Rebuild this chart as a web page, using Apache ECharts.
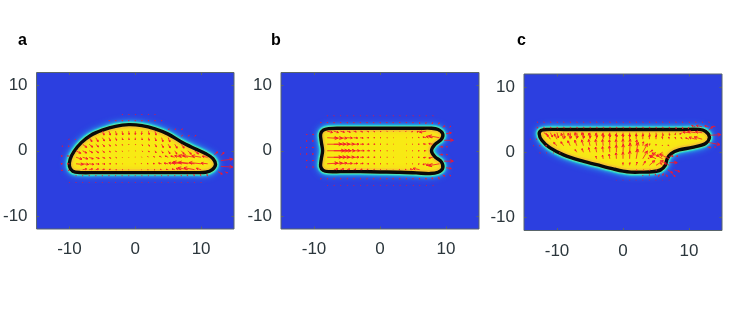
<!DOCTYPE html>
<html><head><meta charset="utf-8">
<script src="https://cdn.jsdelivr.net/npm/echarts@6/dist/echarts.min.js"></script>
<style>html,body{margin:0;padding:0;background:#fff}#c{width:747px;height:311px}</style></head>
<body><div id="c"></div>
<script>
const panelLabels=['a','b','c'];
const xTicks=[-10,0,10];
const yTicks=[-10,0,10];
const outlineA=[[-10,-2.4],[-9.5,-3.15],[-8.3,-3.35],[-6,-3.35],[-3,-3.35],[0,-3.35],[3,-3.35],[6,-3.35],[9,-3.35],[10.7,-3.3],[11.7,-2.9],[12.2,-2.1],[11.8,-1.2],[10.8,-.5],[9,.35],[7,1.35],[5,2.55],[3,3.35],[1,3.85],[-1,4],[-3,3.75],[-5,3.15],[-6.8,2.35],[-8.2,1.25],[-9.3,-.1],[-9.9,-1.3]];
const outlineB=[[-9,2.55],[-8.6,3.15],[-7.8,3.4],[-6,3.45],[-3,3.45],[0,3.45],[3,3.45],[6,3.45],[7.8,3.45],[8.8,3.25],[9.5,2.6],[9.3,1.75],[8.3,.95],[7.8,0],[8.3,-.9],[9.3,-1.7],[9.5,-2.7],[8.8,-3.3],[7.6,-3.5],[5.5,-3.4],[3,-3.3],[0,-3.25],[-3,-3.2],[-6,-3.2],[-7.8,-3.2],[-8.6,-3],[-9,-2.4],[-8.9,-1.3],[-8.7,0],[-8.9,1.4]];
const outlineC=[[-12.7,2.8],[-12.4,3.35],[-11.6,3.5],[-9,3.5],[-6,3.5],[-3,3.5],[0,3.5],[3,3.5],[6,3.5],[9,3.5],[11.5,3.5],[12.5,3.2],[13.1,2.3],[12.5,1.35],[10.5,.75],[8.5,.35],[7.3,-.2],[6.7,-1],[6.4,-2],[5.7,-2.7],[4.4,-3],[2.8,-3.05],[1.2,-3.05],[0,-2.9],[-1.5,-2.55],[-4,-1.9],[-6.5,-1.25],[-9,-.4],[-11.1,.7],[-12.3,1.85]];
// rows: y, first x, then u,v for each x step of one unit
const rowsA=[
[5.6,-2,.05,-.1,.05,-.1,.05,-.1,0,-.1,0,-.1,0,-.1],
[4.7,-4,.05,-.15,.05,-.15,.05,-.15,0,-.15,0,-.15,0,-.15,0,-.15,0,-.15,0,-.15],
[3,-5,.25,-.6,.2,-.6,.15,-.6,.1,-.55,.05,-.5,0,-.5,-.05,-.5,.1,-.5,.15,-.6],
[2,-7,.4,-.6,.35,-.6,.3,-.5,.2,-.5,.15,-.4,.1,-.35,.05,-.3,0,-.3,.05,-.35,.1,-.4,.15,-.5,.2,-.6,.25,-.65],
[1,-8,.6,-.5,.5,-.45,.4,-.4,.3,-.35,.2,-.3,.1,-.2,.05,-.15,0,-.1,.05,-.1,.1,-.2,.15,-.3,.2,-.4,.25,-.5,.3,-.55,.35,-.6,.4,-.6],
[0,-9,.7,-.4,.6,-.35,.5,-.3,.4,-.3,.3,-.25,.2,-.2,.1,-.15,.05,-.1,0,-.05,.05,-.05,.1,-.1,.1,-.2,.15,-.3,.2,-.35,.25,-.45,.3,-.5,.4,-.5,.5,-.55,.6,-.5],
[-1,-9,.9,-.3,.8,-.25,.6,-.25,.5,-.2,.35,-.15,.25,-.15,.15,-.1,.05,-.05,0,-.05,0,.05,-.05,.05,-.1,.1,-.2,.1,-.3,.15,-.45,.2,-.6,.2,-1,.25,-1.4,.3,-1.8,.3,-1.4,.25,-.8,.15],
[-2,-9,1.1,-.1,.9,-.1,.7,-.1,.5,-.05,.4,-.05,.25,0,.15,0,.05,0,0,0,-.05,0,-.1,.05,-.2,.05,-.3,.05,-.45,.1,-.6,.1,-.9,.15,-1.4,.2,-2.2,.3,-2.4,.25,-1.8,.2,-1,.1],
[-2.9,-8,.6,.1,.5,.1,.4,.1,.3,.05,.2,.05,.15,0,.1,0,.05,0,0,0,-.05,0,-.1,0,-.15,0,-.2,.05,-.3,.05,-.4,.1,-.8,.2,-1.5,.3,-1.6,.3,-.7,.2],
[-3.9,-9,0,.1,0,.12,0,.12,0,.12,0,.12,0,.12,0,.12,0,.1,0,.1,0,.1,0,.1,0,.1,0,.1,0,.12,0,.12,0,.12,0,.15,-.1,.2,-.1,.25,-.1,.25,-.1,.25],
[-4.9,-10,0,.08,0,.08,0,.08,0,.08,0,.08,0,.08,0,.08,0,.08,0,.08,0,.08,0,.08,0,.08,0,.08,0,.08,0,.08,0,.08,0,.08,0,.08,0,.08,0,.08,0,.08],
[1.8,-10,-.1,-.05,-.1,-.08],
[.7,-11,-.15,0,-.2,0],
[-.8,-11,-.25,0,-.3,0],
[-2,-11,-.3,0,-.35,0],
[-3,-11,-.2,0,-.2,0],
[-.7,13,.5,.4],
[-1.5,13,1.8,.2],
[-2.4,13,1.8,-.1],
[-3.2,12.6,.6,-.4,.4,-.2],
[-.6,12,.5,.4],
[3.2,5,.15,.15,.15,.15,.15,.15],
[2.2,7,.15,.15,.2,.15,.2,.15]
];
const rowsB=[
[5.4,-8,.05,-.08,.05,-.08,.05,-.08,.05,-.08,.05,-.08,.05,-.08,.05,-.08,.05,-.08,.05,-.08,.05,-.08,.05,-.08,.05,-.08,.05,-.08,.05,-.08,.05,-.08,.05,-.08,.05,-.08],
[4.4,-9,.05,-.15,.05,-.15,.05,-.15,.05,-.15,.05,-.15,.05,-.15,.05,-.15,.05,-.15,.05,-.15,.05,-.15,.05,-.15,0,-.15,0,-.15,0,-.15,0,-.15,0,-.2,-.05,-.2,-.1,-.25,-.1,-.3],
[3,-8,.8,-.2,.7,-.2,.6,-.15,.5,-.15,.4,-.1,.35,-.1,.3,-.1,.2,-.1,.15,-.08,.1,-.05,.05,-.05,0,-.05,-.1,-.05,-.2,-.1,-.4,-.1,-1,-.15],
[2,-8,1.6,-.1,1.3,-.1,1,-.1,.8,-.05,.6,-.05,.45,-.05,.3,0,.2,0,.15,0,.1,0,.05,0,0,0,-.05,0,-.1,0,-.2,.05,-.5,.1,-1,.2,-1.6,.3],
[1,-8,2.2,0,1.8,0,1.4,0,1.1,0,.8,0,.5,0,.35,0,.25,0,.15,0,.1,0,.05,0,0,0,-.05,0,-.1,0,-.2,0,-.4,.05,-.6,.1],
[0,-8,2.6,0,2.1,0,1.6,0,1.2,0,.9,0,.6,0,.4,0,.25,0,.15,0,.1,0,.05,0,0,0,-.05,0,-.1,0,-.2,0,-.3,0],
[-1,-8,2.2,0,1.8,0,1.4,0,1.1,0,.8,0,.5,0,.35,0,.25,0,.15,0,.1,0,.05,0,0,0,-.05,0,-.1,0,-.2,0,-.4,-.05,-.6,-.1],
[-2,-8,1.6,.1,1.3,.1,1,.1,.8,.05,.6,.05,.45,.05,.3,0,.2,0,.15,0,.1,0,.05,0,0,0,-.05,0,-.1,0,-.2,-.05,-.5,-.1,-1,-.2,-1.6,-.3],
[-2.9,-7,.6,.1,.5,.1,.4,.08,.35,.05,.3,.05,.2,.05,.15,.05,.1,.03,.05,.03,0,.03,-.1,.05,-.2,.05,-.4,.1,-1,.2],
[-4.4,-9,.05,.15,.05,.15,.05,.15,.05,.15,.05,.15,.05,.15,.05,.15,.05,.15,.05,.15,.05,.15,.05,.15,0,.15,0,.15,0,.15,0,.15,0,.2,-.05,.2,-.1,.25,-.1,.3],
[-5.4,-8,.05,.08,.05,.08,.05,.08,.05,.08,.05,.08,.05,.08,.05,.08,.05,.08,.05,.08,.05,.08,.05,.08,.05,.08,.05,.08,.05,.08,.05,.08,.05,.08,.05,.08],
[2.5,-11,-.15,0,-.2,0],
[1.5,-11,-.2,0,-.25,0],
[.5,-12,-.1,0,-.2,0,-.25,0],
[-.5,-12,-.1,0,-.2,0,-.25,0],
[-1.5,-11,-.2,0,-.25,0],
[-2.5,-11,-.15,0,-.2,0],
[2.6,10,.8,.15],
[1.6,9.7,1.4,0],
[.6,9,.5,0,.2,0],
[-.6,9,.5,0,.2,0],
[-1.6,9.7,1.4,0],
[-2.6,10,.8,-.15],
[3.6,9.5,.3,.2,.2,.15],
[-3.7,9.5,.3,-.2,.2,-.15]
];
const rowsC=[
[4.7,-13,.05,-.12,.05,-.12,.05,-.12,.05,-.12,.05,-.12,.05,-.12,.05,-.12,.05,-.12,.05,-.12,.05,-.12,.05,-.12,.05,-.12,.05,-.12,.05,-.12,.05,-.12,.05,-.12,.05,-.12,.05,-.12,.05,-.12,.05,-.12,.05,-.12,.05,-.12,.05,-.12,.05,-.12,.05,-.12,.05,-.12,.05,-.12],
[3.9,-13,.05,-.2,.05,-.2,.05,-.2,.05,-.2,.05,-.2,.05,-.2,.05,-.2,.05,-.2,.05,-.2,.05,-.2,.05,-.2,.05,-.2,.05,-.2,.05,-.2,.05,-.2,.05,-.2,.05,-.2,.05,-.2,.05,-.2,.05,-.2,.05,-.2,.05,-.25,.05,-.25,-.1,-.25,-.6,.2,-.9,.2,-.6,.15,-.3,.1],
[3,-12,.5,-.3,.3,-.65,.2,-.8,.15,-.85,.1,-.85,.1,-.8,.08,-.8,.05,-.75,.05,-.7,.05,-.7,.05,-.65,.05,-.65,.05,-.6,.05,-.6,.05,-.55,.05,-.5,.05,-.5,.05,-.5,.05,-.45,.05,-.4,-.1,-.3,-.4,-.2,-.9,.1,-1.2,.2,-1,.15],
[2,-11,-.5,.7,-.4,.8,-.35,.9,-.3,.95,-.25,1,-.2,1,-.15,.95,-.1,.9,-.1,.85,-.05,.85,-.05,.8,-.05,.8,0,.75,0,.75,0,.7,0,.6,0,.5,-.05,.4,-.05,.35,-.1,.3,-.2,.25,-.5,.2,-1,.3,-1.2,.35],
[1,-10,-.5,.5,-.4,.6,-.35,.75,-.3,.85,-.25,.9,-.2,.95,-.15,.95,-.1,.95,-.05,.9,-.05,.95,0,1,.1,1,.1,.9,.1,.6,.05,.3,0,.2,-.05,.1,-.2,.1],
[0,-7,-.25,.4,-.2,.55,-.2,.7,-.15,.8,-.1,.85,-.05,.95,0,1.1,.05,1.2,.1,1.4,.3,1.5,.7,1.3,.5,.3,-.9,-.8,-.9,-.6],
[-1,-4,-.1,.4,-.1,.55,-.1,.7,-.05,.9,0,1,.05,1.2,.25,1.5,.7,1.2,-.2,.1,-1,.5,-1.6,.9,-1.4,.7],
[-2,0,0,.4,.05,.4,.15,.5,.4,.6,.8,.7,1.1,.7,-.3,.3,-.8,.4],
[-2.8,2,.1,.1,.1,.1,.1,.1,.1,.1],
[-3.6,3,0,.1,0,.15,-.1,.25,.1,.3],
[-4.3,-1,0,.05,0,.05,0,.05,0,.05,0,.05,0,.05,0,.05,0,.05,0,.05],
[-.1,-12.5,-.1,0,-.1,0,-.1,0,-.1,0],
[1,-13.5,-.1,0,-.15,0,-.2,0],
[2,-14,-.1,0,-.15,0],
[-1.6,7,1.2,0,.2,0],
[-2.7,6.8,.7,-.5,.8,-.3],
[-3.4,5.5,-.1,-.3,.2,-.3,.4,-.3],
[-.6,7,.6,0,.3,0],
[3.4,13,.6,.5],
[2.6,13.2,1.6,.1],
[1.5,13,1.7,-.35],
[.8,12.8,.5,-.1,.2,0]
];
const panels=[
 {outline:outlineA,rows:rowsA,left:36,top:72.5,width:198,height:156.5,tx:18,ty:33},
 {outline:outlineB,rows:rowsB,left:281,top:72.5,width:198,height:156.5,tx:271,ty:33},
 {outline:outlineC,rows:rowsC,left:524,top:74,width:198,height:156.5,tx:517,ty:33}
];
function expand(rows){const out=[];rows.forEach(r=>{for(let i=2;i<r.length;i+=2){out.push([r[1]+(i-2)/2,r[0],r[i],r[i+1]]);}});return out;}
const font='"Liberation Sans",Helvetica,Arial,sans-serif',ink='#2b363c',frame='#59656a';
const grid=[],xAxis=[],yAxis=[],series=[],title=[];
panels.forEach((p,k)=>{
 grid.push({left:p.left,top:p.top,width:p.width,height:p.height,show:true,backgroundColor:'#2c3fe0',borderColor:frame,borderWidth:1});
 title.push({text:panelLabels[k],left:p.tx,top:p.ty,padding:0,textStyle:{fontFamily:font,fontWeight:'bold',fontSize:16,color:'#000'}});
 const xb=xAxis.length,yb=yAxis.length;
 [false,true].forEach(op=>{
  xAxis.push({type:'value',gridIndex:k,min:-15,max:15,position:op?'top':'bottom',axisLine:{show:false,onZero:false},splitLine:{show:false},
   axisTick:{show:true,inside:true,length:2.5,customValues:xTicks,lineStyle:{color:frame}},
   axisLabel:op?{show:false}:{show:true,customValues:xTicks,fontFamily:font,fontSize:17,color:ink,margin:12}});
  yAxis.push({type:'value',gridIndex:k,min:-12,max:12,position:op?'right':'left',axisLine:{show:false,onZero:false},splitLine:{show:false},
   axisTick:{show:true,inside:true,length:2.5,customValues:yTicks,lineStyle:{color:frame}},
   axisLabel:op?{show:false}:{show:true,customValues:yTicks,fontFamily:font,fontSize:17,color:ink,margin:9}});
 });
 series.push({type:'custom',coordinateSystem:'cartesian2d',xAxisIndex:xb,yAxisIndex:yb,silent:true,z:2,clip:true,animation:false,
  data:p.outline,encode:{x:0,y:1},
  renderItem(params,api){
   if(params.dataIndex!==0) return null;
   const pts=p.outline.map(q=>api.coord(q));
   const shape={points:pts,smooth:.33};
   return {type:'group',children:[
    {type:'polygon',shape,style:{fill:'#1f9fe8',stroke:'#1f9fe8',lineWidth:7,shadowBlur:7,shadowColor:'#2aa0e8'}},
    {type:'polygon',shape,style:{fill:'none',stroke:'#30d8d0',lineWidth:6,shadowBlur:3,shadowColor:'#30d8d0'}},
    {type:'polygon',shape,style:{fill:'none',stroke:'#70e8a0',lineWidth:4.5}},
    {type:'polygon',shape,style:{fill:'#f8ea14',stroke:'none'}},
    {type:'polygon',shape,clipPath:{type:'polygon',shape},style:{fill:'none',stroke:'rgba(245,185,60,.6)',lineWidth:7,shadowBlur:5,shadowColor:'rgba(245,185,60,.7)'}},
    {type:'polygon',shape,style:{fill:'none',stroke:'#0a0a0a',lineWidth:3.4,lineJoin:'round'}}
   ]};
  }});
 series.push({type:'custom',coordinateSystem:'cartesian2d',xAxisIndex:xb,yAxisIndex:yb,silent:true,z:3,clip:true,animation:false,
  data:expand(p.rows),encode:{x:0,y:1},
  renderItem(params,api){
   const x=api.value(0),y=api.value(1),u=api.value(2),v=api.value(3);
   const a=api.coord([x,y]),b=api.coord([x+u,y+v]);
   const dx=b[0]-a[0],dy=b[1]-a[1],L=Math.hypot(dx,dy)||1,h=Math.min(3,L*.35),c=dx/L,s=dy/L;
   const h1=[b[0]-h*c+h*.5*s,b[1]-h*s-h*.5*c],h2=[b[0]-h*c-h*.5*s,b[1]-h*s+h*.5*c];
   return {type:'polyline',shape:{points:[a,b,h1,b,h2]},style:{fill:'none',stroke:'#f4182c',lineWidth:.8}};
  }});
});
const chart=echarts.init(document.getElementById('c'),null,{renderer:'canvas'});
chart.setOption({animation:false,backgroundColor:'#fff',title,grid,xAxis,yAxis,series});
</script></body></html>
